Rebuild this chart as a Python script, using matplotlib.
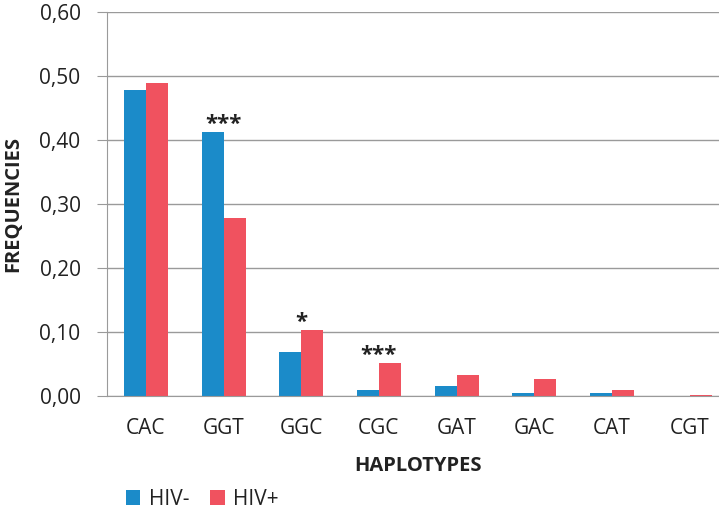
# Haplotype frequencies in HIV- and HIV+ groups

import numpy as np
import matplotlib.pyplot as plt

plt.rcParams['font.family'] = ['Open Sans', 'DejaVu Sans']

haplotypes = ["CAC", "GGT", "GGC", "CGC", "GAT", "GAC", "CAT", "CGT"]
hiv_neg = [0.478, 0.412, 0.069, 0.010, 0.015, 0.005, 0.005, 0.000]
hiv_pos = [0.489, 0.278, 0.103, 0.051, 0.033, 0.026, 0.009, 0.002]
stars = ["", "***", "*", "***", "", "", "", ""]
yticks = [0.0, 0.1, 0.2, 0.3, 0.4, 0.5, 0.6]

blue = "#1b8bc9"
red = "#f0525f"
grey = "#9a9a9a"

fig = plt.figure(figsize=(7.19, 5.16), dpi=100)
ax = fig.add_axes([0.1488, 0.2326, 0.8645, 0.7441])

x = np.arange(len(haplotypes))
w = 0.283
ax.bar(x - w/2, hiv_neg, w, color=blue, label="HIV-")
ax.bar(x + w/2, hiv_pos, w, color=red, label="HIV+")

# significance marks
for i, s in enumerate(stars):
    if s:
        top = max(hiv_neg[i], hiv_pos[i])
        ax.annotate(s, (x[i], top), xytext=(0, -2), textcoords="offset points",
                    ha="center", va="bottom", fontsize=16, fontweight="bold",
                    color="#222222")

ax.set_xlim(-0.5, len(haplotypes) - 0.5)
ax.set_ylim(0, 0.6)
ax.set_yticks(yticks)
ax.set_yticklabels([f"{v:.2f}".replace(".", ",") for v in yticks])
ax.set_xticks(x)
ax.set_xticklabels(haplotypes)
ax.tick_params(axis="x", length=0, pad=16, labelsize=15, labelcolor="#222222")
ax.tick_params(axis="y", length=7, color=grey, pad=12, labelsize=15,
               labelcolor="#222222")

ax.grid(axis="y", color=grey, linewidth=1)
ax.set_axisbelow(True)
for side in ["top", "right"]:
    ax.spines[side].set_visible(False)
ax.spines["left"].set_color(grey)
ax.spines["bottom"].set_color(grey)

ax.set_xlabel("HAPLOTYPES", fontsize=14.5, fontweight="bold", labelpad=12,
              color="#222222")
ax.set_ylabel("FREQUENCIES", fontsize=14.5, fontweight="bold", labelpad=12,
              color="#222222")

ax.legend(loc="lower left", bbox_to_anchor=(0.0, -0.345), ncol=2, frameon=False,
          fontsize=15, handlelength=0.7, handleheight=0.7, handletextpad=0.4,
          columnspacing=1.0, labelcolor="#222222")

plt.savefig("out.png", dpi=100)
